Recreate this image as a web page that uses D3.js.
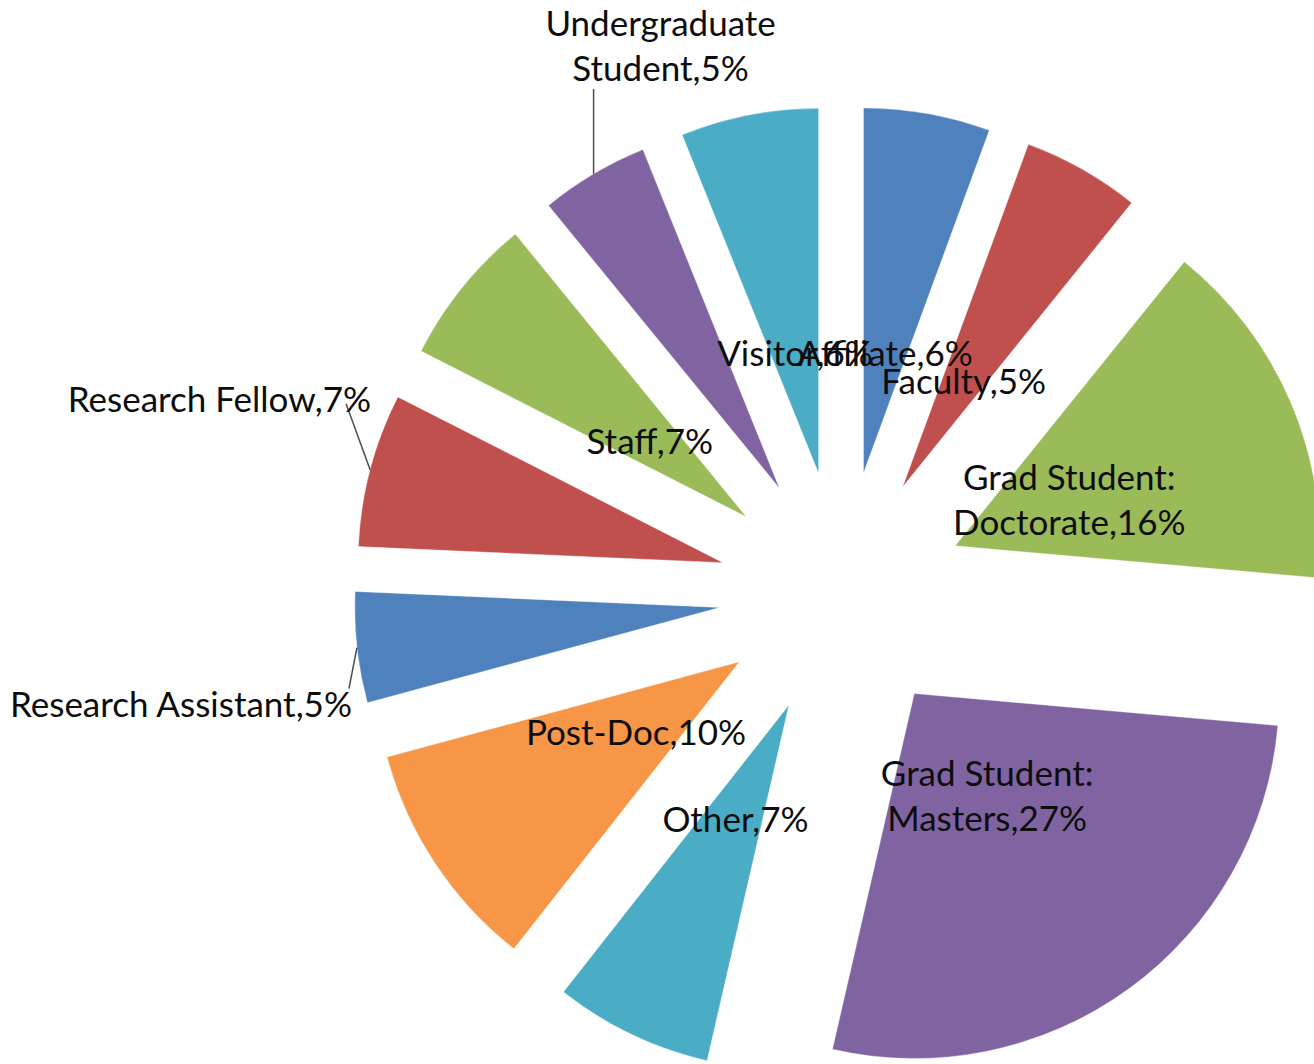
<!DOCTYPE html>
<html>
<head>
<meta charset="utf-8">
<script src="https://cdn.jsdelivr.net/npm/d3@7"></script>
<style>
  html, body { margin: 0; padding: 0; background: #ffffff; }
  svg { display: block; }
</style>
</head>
<body>
<svg id="chart" width="1314" height="1064"></svg>
<script>
// ---------------- data ----------------
const categories = [
  "Affiliate", "Faculty", "Grad Student: Doctorate", "Grad Student: Masters",
  "Other", "Post-Doc", "Research Assistant", "Research Fellow", "Staff",
  "Undergraduate Student", "Visitor"
];
const shares = [5.6, 5.2, 15.6, 27.2, 7.0, 10.2, 4.9, 6.8, 6.6, 4.8, 6.1];
const sliceColors = [
  "#4F81BD", "#C0504D", "#9BBB59", "#8064A2", "#4BACC6", "#F79646",
  "#4F81BD", "#C0504D", "#9BBB59", "#8064A2", "#4BACC6"
];
// label text lines as displayed
const labelLines = [
  ["Affiliate,6%"], ["Faculty,5%"], ["Grad Student:", "Doctorate,16%"],
  ["Grad Student:", "Masters,27%"], ["Other,7%"], ["Post-Doc,10%"],
  ["Research Assistant,5%"], ["Research Fellow,7%"], ["Staff,7%"],
  ["Undergraduate", "Student,5%"], ["Visitor,6%"]
];
// labels drawn outside with leader lines
const outsideLabels = ["Research Assistant", "Research Fellow", "Undergraduate Student"];

// ---------------- layout ----------------
const W = 1314, H = 1064;
const cx = 842, cy = 594;
const R = 365;          // slice radius
const EXPLODE = 123;    // explosion distance
const LABEL_R = 247;    // inside label distance from pie centre
const FONT = "Lato, 'Open Sans', sans-serif";
const FONT_SIZE = 35;
const LINE_H = 45;

// placement of outside labels relative to the outer-arc midpoint of their slice
const outsideLayout = {
  "Undergraduate Student": { anchor: "middle", dx: 67, dy: -93, leader: [0, -85] },
  "Research Fellow":       { anchor: "end",    dx: 1,  dy: -58, leader: [-24, -66] },
  "Research Assistant":    { anchor: "end",    dx: -5, dy: 69,  leader: [-8, 41] }
};

const svg = d3.select("#chart");
const g = svg.append("g").attr("transform", `translate(${cx},${cy})`);

const pie = d3.pie().sort(null).value(d => d).startAngle(0).endAngle(2 * Math.PI);
const arcs = pie(shares);
const arcGen = d3.arc().innerRadius(0).outerRadius(R);

function polar(r, a) { return [r * Math.sin(a), -r * Math.cos(a)]; }

arcs.forEach((a, i) => {
  const mid = (a.startAngle + a.endAngle) / 2;
  const [ox, oy] = polar(EXPLODE, mid);
  g.append("path")
    .attr("d", arcGen(a))
    .attr("transform", `translate(${ox},${oy})`)
    .attr("fill", sliceColors[i])
    .attr("stroke", "rgba(255,255,255,0.35)")
    .attr("stroke-width", 1);
});

// labels
arcs.forEach((a, i) => {
  const mid = (a.startAngle + a.endAngle) / 2;
  const lines = labelLines[i];
  const name = categories[i];
  if (outsideLabels.includes(name)) {
    const L = outsideLayout[name];
    const [px, py] = polar(EXPLODE + R, mid);
    g.append("line")
      .attr("x1", px).attr("y1", py)
      .attr("x2", px + L.leader[0]).attr("y2", py + L.leader[1])
      .attr("stroke", "#4d4d4d").attr("stroke-width", 1.5);
    const t = g.append("text")
      .attr("font-family", FONT).attr("font-size", FONT_SIZE)
      .attr("fill", "#0d0d0d").attr("text-anchor", L.anchor);
    const n = lines.length;
    lines.forEach((ln, k) => {
      t.append("tspan")
        .attr("x", px + L.dx)
        .attr("y", py + L.dy - (n - 1 - k) * LINE_H)
        .text(ln);
    });
  } else {
    const [lx, ly] = polar(LABEL_R, mid);
    const t = g.append("text")
      .attr("font-family", FONT).attr("font-size", FONT_SIZE)
      .attr("fill", "#0d0d0d").attr("text-anchor", "middle");
    const n = lines.length;
    lines.forEach((ln, k) => {
      t.append("tspan")
        .attr("x", lx)
        .attr("y", ly + (k - (n - 1) / 2) * LINE_H)
        .attr("dy", "0.42em")
        .text(ln);
    });
  }
});
</script>
</body>
</html>
